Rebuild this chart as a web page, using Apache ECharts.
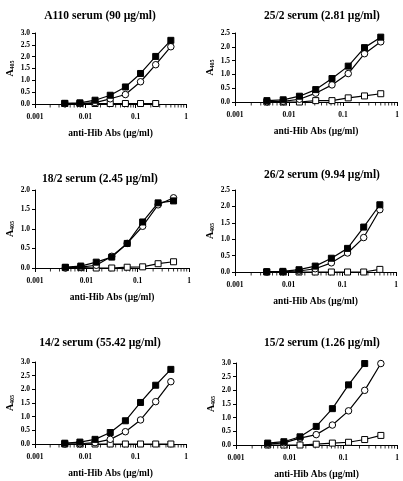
<!DOCTYPE html>
<html><head><meta charset="utf-8">
<script src="https://cdn.jsdelivr.net/npm/echarts@6/dist/echarts.min.js"></script>
<style>html,body{margin:0;padding:0;background:#fff}#c{width:403px;height:481px}</style>
</head><body><div id="c"></div>
<script>
// Two-fold dilutions of anti-Hib antibodies (µg/ml)
const doses = [0.0039, 0.0078, 0.0156, 0.03125, 0.0625, 0.125, 0.25, 0.5];
const xTickLabels = ['0.001', '0.01', '0.1', '1'];
const panelTitles = ['A110 serum (90 µg/ml)', '25/2 serum (2.81 µg/ml)', '18/2 serum (2.45 µg/ml)',
                     '26/2 serum (9.94 µg/ml)', '14/2 serum (55.42 µg/ml)', '15/2 serum (1.26 µg/ml)'];
const yMaxes = [3.0, 2.5, 2.0, 2.5, 3.0, 3.0];

// filled squares
const filledA110 = [0.03, 0.05, 0.16, 0.37, 0.72, 1.29, 2.01, 2.69];
const filled25 = [0.05, 0.08, 0.21, 0.45, 0.85, 1.30, 1.97, 2.35];
const filled18 = [0.02, 0.05, 0.15, 0.28, 0.63, 1.18, 1.67, 1.72];
const filled26 = [0.01, 0.02, 0.07, 0.18, 0.42, 0.72, 1.37, 2.05];
const filled14 = [0.03, 0.07, 0.17, 0.42, 0.85, 1.52, 2.15, 2.73];
const filled15 = [0.07, 0.12, 0.30, 0.68, 1.33, 2.20, 2.98, null];
// open circles
const circA110 = [0.01, 0.02, 0.06, 0.22, 0.40, 0.94, 1.66, 2.42];
const circ25 = [0.01, 0.02, 0.10, 0.32, 0.62, 1.03, 1.75, 2.18];
const circ18 = [0.00, 0.02, 0.07, 0.30, 0.63, 1.07, 1.62, 1.80];
const circ26 = [0.00, 0.01, 0.03, 0.10, 0.28, 0.58, 1.05, 1.90];
const circ14 = [0.00, 0.01, 0.05, 0.17, 0.45, 0.88, 1.55, 2.28];
const circ15 = [0.03, 0.08, 0.25, 0.38, 0.73, 1.25, 2.00, 2.98];
// open squares
const sqA110 = [0.02, 0.02, 0.02, 0.02, 0.02, 0.02, 0.02, null];
const sq25 = [0.00, 0.00, 0.00, 0.05, 0.05, 0.15, 0.22, 0.30];
const sq18 = [0.01, 0.01, 0.00, 0.00, 0.02, 0.03, 0.11, 0.16];
const sq26 = [0.00, 0.00, 0.00, 0.00, 0.00, 0.00, 0.00, 0.08];
const sq14 = [0.00, 0.00, 0.00, 0.00, 0.00, 0.00, 0.00, 0.00];
const sq15 = [0.00, 0.00, 0.00, 0.03, 0.07, 0.10, 0.20, 0.35];

const filledAll = [filledA110, filled25, filled18, filled26, filled14, filled15];
const circAll = [circA110, circ25, circ18, circ26, circ14, circ15];
const sqAll = [sqA110, sq25, sq18, sq26, sq14, sq15];

// layout (px)
const grids = [
  {left: 35, top: 33, width: 151, height: 71},
  {left: 235, top: 33, width: 162, height: 69},
  {left: 35, top: 190, width: 154, height: 78},
  {left: 235, top: 190, width: 161, height: 82},
  {left: 35, top: 362, width: 151, height: 82},
  {left: 236, top: 363, width: 161, height: 82}
];
const titlePos = [[95, 5], [317, 5], [95, 168], [317, 164], [95, 332], [317, 332]];

const FF = '"Liberation Serif", "DejaVu Serif", serif';
const pair = (arr) => doses.map((d, i) => arr[i] == null ? null : [d, arr[i]]).filter(p => p);
// log minor ticks 2..9 per decade
const minorVals = [];
[0.001, 0.01, 0.1].forEach(b => { for (let k = 2; k <= 9; k++) minorVals.push(+(b * k).toPrecision(3)); });

const option = {
  animation: false,
  backgroundColor: '#fff',
  title: panelTitles.map((t, i) => ({
    text: t, left: titlePos[i][0], top: titlePos[i][1], textAlign: 'center',
    textStyle: {fontFamily: FF, fontWeight: 'bold', fontSize: 11.5, color: '#000'}
  })),
  grid: grids.map(g => Object.assign({containLabel: false}, g)),
  xAxis: grids.map((g, i) => ({
    type: 'log', logBase: 10, min: 0.001, max: 1, gridIndex: i,
    name: 'anti-Hib Abs (µg/ml)', nameLocation: 'middle', nameGap: 25,
    nameTextStyle: {fontFamily: FF, fontWeight: 'bold', fontSize: 9.5, color: '#000'},
    axisLine: {lineStyle: {color: '#000', width: 1}},
    axisTick: {show: true, length: 4, lineStyle: {color: '#000'}},
    splitLine: {show: false},
    axisLabel: {fontFamily: FF, fontWeight: 'bold', fontSize: 7.5, color: '#000', margin: 9,
      formatter: v => { const idx = Math.round(Math.log10(v)) + 3; return xTickLabels[idx] ?? ''; }}
  })),
  yAxis: grids.map((g, i) => ({
    type: 'value', min: 0, max: yMaxes[i], interval: 0.5, gridIndex: i,
    name: '{a|A}{b|405}', nameLocation: 'middle', nameGap: 20, nameRotate: 90,
    nameTextStyle: {rich: {
      a: {fontFamily: FF, fontWeight: 'bold', fontSize: 10, color: '#000', verticalAlign: 'bottom'},
      b: {fontFamily: FF, fontWeight: 'bold', fontSize: 6, color: '#000', verticalAlign: 'bottom', padding: [4, 0, 0, 0]}
    }},
    axisLine: {show: true, lineStyle: {color: '#000', width: 1}},
    axisTick: {show: true, length: 3, lineStyle: {color: '#000'}},
    splitLine: {show: false},
    axisLabel: {fontFamily: FF, fontWeight: 'bold', fontSize: 7.5, color: '#000', margin: 5,
      formatter: v => v.toFixed(1)}
  })),
  series: []
};

grids.forEach((g, i) => {
  option.series.push({
    type: 'scatter', xAxisIndex: i, yAxisIndex: i, silent: true, z: 1,
    data: minorVals.map(v => [v, 0]), symbol: 'rect', symbolSize: [1, 3], symbolOffset: [0, 2],
    itemStyle: {color: '#000'}
  });
  option.series.push({
    type: 'line', xAxisIndex: i, yAxisIndex: i, data: pair(sqAll[i]), z: 3,
    symbol: 'rect', symbolSize: 6, showAllSymbol: true,
    lineStyle: {color: '#000', width: 1.2},
    itemStyle: {color: '#fff', borderColor: '#000', borderWidth: 1}
  });
  option.series.push({
    type: 'line', xAxisIndex: i, yAxisIndex: i, data: pair(circAll[i]), z: 4,
    symbol: 'circle', symbolSize: 6.5, showAllSymbol: true,
    lineStyle: {color: '#000', width: 1.2},
    itemStyle: {color: '#fff', borderColor: '#000', borderWidth: 1}
  });
  option.series.push({
    type: 'line', xAxisIndex: i, yAxisIndex: i, data: pair(filledAll[i]), z: 5,
    symbol: 'rect', symbolSize: 6, showAllSymbol: true,
    lineStyle: {color: '#000', width: 1.2},
    itemStyle: {color: '#000', borderColor: '#000', borderWidth: 1}
  });
});

const chart = echarts.init(document.getElementById('c'), null, {renderer: 'canvas'});
chart.setOption(option);
</script>
</body></html>
